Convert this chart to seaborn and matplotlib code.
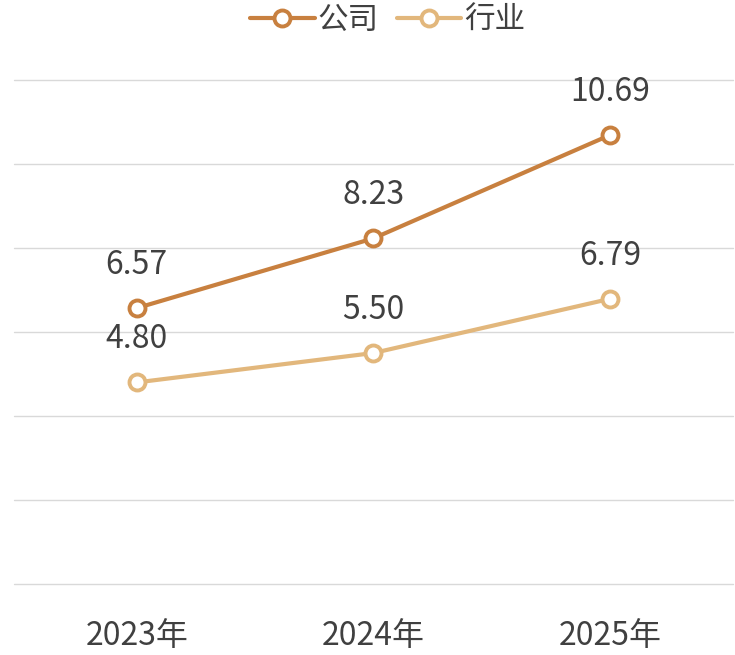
import matplotlib.pyplot as plt
import seaborn as sns
import pandas as pd

# -----------------------------
# Data
# -----------------------------
years = ["2023年", "2024年", "2025年"]
company = [6.57, 8.23, 10.69]
industry = [4.80, 5.50, 6.79]
series_names = ["公司", "行业"]
colors = ["#C8803F", "#E2B77C"]

df = pd.DataFrame({
    "idx": list(range(len(years))) * 2,
    "value": company + industry,
    "series": [series_names[0]] * len(years) + [series_names[1]] * len(years),
})

# -----------------------------
# Style
# -----------------------------
sns.set_style("white")
plt.rcParams["font.family"] = ["Noto Sans CJK SC", "DejaVu Sans"]

fig = plt.figure(figsize=(7.35, 6.55), dpi=100)
ax = fig.add_axes([0.019, 0.1084, 0.978, 0.7694])

sns.lineplot(
    data=df,
    x="idx",
    y="value",
    hue="series",
    palette=colors,
    marker="o",
    markersize=11.5,
    markerfacecolor="white",
    markeredgewidth=2.8,
    linewidth=3,
    ax=ax,
)

# marker edges follow line colours
for line, c in zip(ax.get_lines(), colors):
    line.set_markeredgecolor(c)

# -----------------------------
# Value labels
# -----------------------------
for vals in (company, industry):
    for i, v in enumerate(vals):
        ax.annotate(
            f"{v:.2f}",
            (i, v),
            xytext=(0, 31),
            textcoords="offset points",
            ha="center",
            va="center",
            fontsize=23,
            color="#404040",
        )

# -----------------------------
# Axes
# -----------------------------
ax.set_xlim(-0.519, 2.519)
ax.set_ylim(0, 12)
ax.set_yticks(range(0, 13, 2))
ax.set_yticklabels([])
ax.tick_params(axis="y", length=0)
ax.grid(axis="y", color="#D9D9D9", linewidth=1)
ax.set_axisbelow(True)
for gl in ax.get_ygridlines():
    gl.set_clip_on(False)
ax.set_xticks(range(len(years)))
ax.set_xticklabels(years, fontsize=23, color="#404040")
ax.tick_params(axis="x", length=0, pad=26)
ax.set_xlabel("")
ax.set_ylabel("")
for s in ax.spines.values():
    s.set_visible(False)

handles, labels = ax.get_legend_handles_labels()
for h, c in zip(handles, colors):
    h.set_markeredgecolor(c)
    h.set_markerfacecolor("white")
ax.legend(
    handles,
    labels,
    loc="center",
    bbox_to_anchor=(0.52, 1.119),
    ncol=2,
    frameon=False,
    fontsize=22,
    handlelength=2.1,
    handletextpad=0.1,
    columnspacing=0.6,
    labelcolor="#404040",
    borderpad=0.1,
)

plt.savefig("out.png", dpi=100)
plt.close()
